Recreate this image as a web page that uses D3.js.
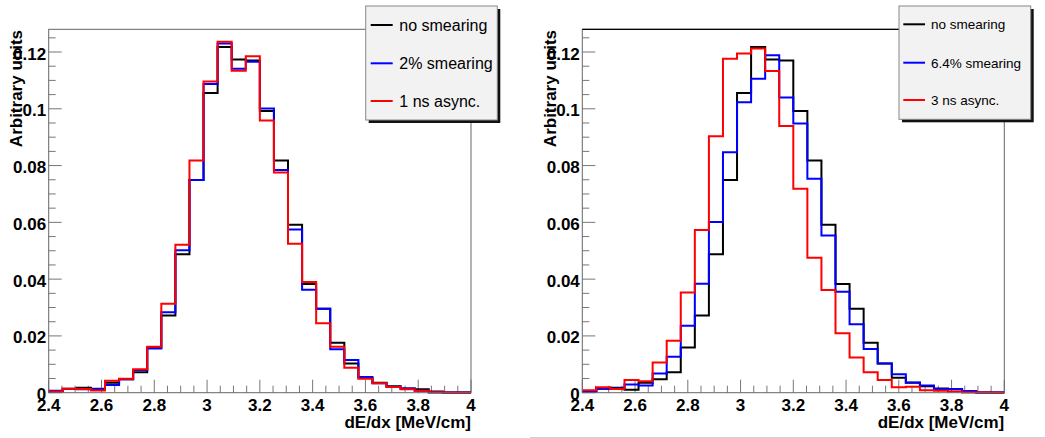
<!DOCTYPE html>
<html>
<head>
  <meta charset="utf-8">
  <title>dE/dx smearing comparison</title>
  <script src="https://d3js.org/d3.v7.min.js"></script>
  <style>
    body { margin: 0; background: #fff; }
    svg text { font-family: "Liberation Sans", Arial, Helvetica, sans-serif; }
    .tick-label { font-weight: bold; font-size: 17px; fill: #000; }
    .axis-title { font-weight: bold; font-size: 17px; fill: #000; }
  </style>
</head>
<body>
<script>
// binning of the histograms: 30 bins between 2.4 and 4.0 MeV/cm
var xMin = 2.4, xMax = 4.0, nBins = 30;

// bin contents (arbitrary units)
var noSmearing = [0.0005, 0.0014, 0.0017, 0.0010, 0.0035, 0.0047, 0.0072, 0.0159, 0.0272, 0.0488,
                  0.0749, 0.1056, 0.1218, 0.1174, 0.1170, 0.0992, 0.0818, 0.0592, 0.0383, 0.0296,
                  0.0176, 0.0103, 0.0053, 0.0035, 0.0023, 0.0015, 0.0012, 0.0004, 0.0001, 0.0001];
var smearing2 = [0.0007, 0.0013, 0.0012, 0.0014, 0.0027, 0.0047, 0.0080, 0.0156, 0.0283, 0.0502,
                 0.0749, 0.1087, 0.1230, 0.1141, 0.1166, 0.1001, 0.0784, 0.0575, 0.0363, 0.0296,
                 0.0153, 0.0115, 0.0055, 0.0033, 0.0021, 0.0015, 0.0007, 0.0001, 0.0001, 0.0001];
var async1ns = [0.0004, 0.0014, 0.0013, 0.0008, 0.0042, 0.0049, 0.0083, 0.0162, 0.0313, 0.0521,
                0.0818, 0.1096, 0.1236, 0.1134, 0.1185, 0.0959, 0.0776, 0.0525, 0.0390, 0.0245,
                0.0162, 0.0088, 0.0049, 0.0033, 0.0020, 0.0012, 0.0007, 0.0002, 0.0001, 0.0000];
var smearing64 = [0.0004, 0.0014, 0.0015, 0.0029, 0.0025, 0.0068, 0.0127, 0.0236, 0.0384, 0.0601,
                  0.0847, 0.1023, 0.1106, 0.1189, 0.1040, 0.0948, 0.0754, 0.0554, 0.0356, 0.0241,
                  0.0154, 0.0103, 0.0065, 0.0036, 0.0025, 0.0013, 0.0013, 0.0006, 0.0001, 0.0001];
var async3ns = [0.0009, 0.0019, 0.0013, 0.0045, 0.0040, 0.0106, 0.0183, 0.0353, 0.0573, 0.0903,
                0.1176, 0.1195, 0.1212, 0.1133, 0.0939, 0.0718, 0.0475, 0.0362, 0.0209, 0.0124,
                0.0072, 0.0045, 0.0019, 0.0021, 0.0009, 0.0007, 0.0004, 0.0001, 0.0001, 0.0000];

var xTicks = [2.4, 2.6, 2.8, 3.0, 3.2, 3.4, 3.6, 3.8, 4.0];
var yTicks = [0, 0.02, 0.04, 0.06, 0.08, 0.1, 0.12];
var yMax = 0.128;

var leftLabels = ["no smearing", "2% smearing", "1 ns async."];
var rightLabels = ["no smearing", "6.4% smearing", "3 ns async."];
var colors = ["#000000", "#0000ff", "#ff0000"];

var W = 1045, H = 438;
var svg = d3.select("body").append("svg")
  .attr("width", W).attr("height", H);

// faint separator line under the right pad
svg.append("line")
  .attr("x1", 530).attr("x2", W).attr("y1", 437.5).attr("y2", 437.5)
  .attr("stroke", "#d0d0d0").attr("stroke-width", 1);

function drawPanel(opt) {
  var x = d3.scaleLinear().domain([xMin, xMax]).range([opt.left, opt.right]);
  var y = d3.scaleLinear().domain([0, yMax]).range([392.7, 29.3]);
  var g = svg.append("g");
  var binW = (xMax - xMin) / nBins;

  // minor + major ticks (inside the frame, grey)
  var yMinor = d3.range(0, yMax + 1e-9, 0.005);
  g.selectAll(".yt").data(yMinor).enter().append("line")
    .attr("x1", opt.left).attr("x2", function(d, i) { return opt.left + (i % 4 == 0 ? 13 : 7); })
    .attr("y1", function(d) { return y(d); }).attr("y2", function(d) { return y(d); })
    .attr("stroke", "#777").attr("stroke-width", 1);
  var xMinor = d3.range(xMin, xMax + 1e-9, 0.05);
  g.selectAll(".xt").data(xMinor).enter().append("line")
    .attr("x1", function(d) { return x(d); }).attr("x2", function(d) { return x(d); })
    .attr("y1", y(0)).attr("y2", function(d, i) { return y(0) - (i % 4 == 0 ? 13 : 7); })
    .attr("stroke", "#777").attr("stroke-width", 1);

  // histograms as step lines
  var line = d3.line().x(function(p) { return x(p[0]); }).y(function(p) { return y(p[1]); });
  opt.series.forEach(function(vals, s) {
    var pts = [];
    vals.forEach(function(v, k) {
      pts.push([xMin + k * binW, v]);
      pts.push([xMin + (k + 1) * binW, v]);
    });
    g.append("path").attr("d", line(pts))
      .attr("fill", "none").attr("stroke", colors[s]).attr("stroke-width", 2);
  });

  // frame
  g.append("rect")
    .attr("x", opt.left).attr("y", 29.3)
    .attr("width", opt.right - opt.left).attr("height", 392.7 - 29.3)
    .attr("fill", "none").attr("stroke", "#666").attr("stroke-width", 1);
  if (opt.blackTop) {
    g.append("line").attr("x1", opt.left).attr("x2", opt.right)
      .attr("y1", 29.3).attr("y2", 29.3).attr("stroke", "#000").attr("stroke-width", 1.3);
  }

  // tick labels
  g.selectAll(".xl").data(xTicks).enter().append("text")
    .attr("class", "tick-label")
    .attr("x", function(d) { return x(d); }).attr("y", 410.5)
    .attr("text-anchor", "middle")
    .text(function(d) { return d3.format("~g")(d); });
  g.selectAll(".yl").data(yTicks).enter().append("text")
    .attr("class", "tick-label")
    .attr("x", opt.left - 2.5).attr("y", function(d) { return y(d) + 7.5; })
    .attr("text-anchor", "end")
    .text(function(d) { return d3.format("~g")(d); });

  // axis titles
  g.append("text").attr("class", "axis-title")
    .attr("x", opt.right).attr("y", 428)
    .attr("text-anchor", "end").text("dE/dx [MeV/cm]");
  g.append("text").attr("class", "axis-title")
    .attr("transform", "translate(" + opt.yTitleX + ",30) rotate(-90)")
    .attr("text-anchor", "end").text("Arbitrary units");

  // legend with shadow
  var L = opt.legend;
  g.append("rect").attr("x", L.x + 3).attr("y", L.y + 3)
    .attr("width", L.w).attr("height", L.h).attr("fill", "#111");
  g.append("rect").attr("x", L.x).attr("y", L.y)
    .attr("width", L.w).attr("height", L.h)
    .attr("fill", "#f2f2f2").attr("stroke", "#888").attr("stroke-width", 1);
  opt.labels.forEach(function(lab, i) {
    var ly = L.rows[i];
    g.append("line").attr("x1", L.lineX0).attr("x2", L.lineX1)
      .attr("y1", ly).attr("y2", ly).attr("stroke", colors[i]).attr("stroke-width", 2);
    g.append("text").attr("x", L.textX).attr("y", ly + L.dy)
      .style("font-size", L.font + "px").attr("fill", "#000").text(lab);
  });
}

drawPanel({
  left: 48.7, right: 471, blackTop: false, yTitleX: 21.5,
  series: [noSmearing, smearing2, async1ns], labels: leftLabels,
  legend: { x: 365.7, y: 6, w: 131.6, h: 114, rows: [25, 63.3, 101],
            lineX0: 370.7, lineX1: 392.7, textX: 399.3, dy: 5.8, font: 16 }
});
drawPanel({
  left: 582.3, right: 1004.3, blackTop: true, yTitleX: 555.5,
  series: [noSmearing, smearing64, async3ns], labels: rightLabels,
  legend: { x: 899, y: 6, w: 131.7, h: 113.3, rows: [24.3, 62.7, 100],
            lineX0: 903.3, lineX1: 925, textX: 931, dy: 4.8, font: 13.5 }
});
</script>
</body>
</html>
